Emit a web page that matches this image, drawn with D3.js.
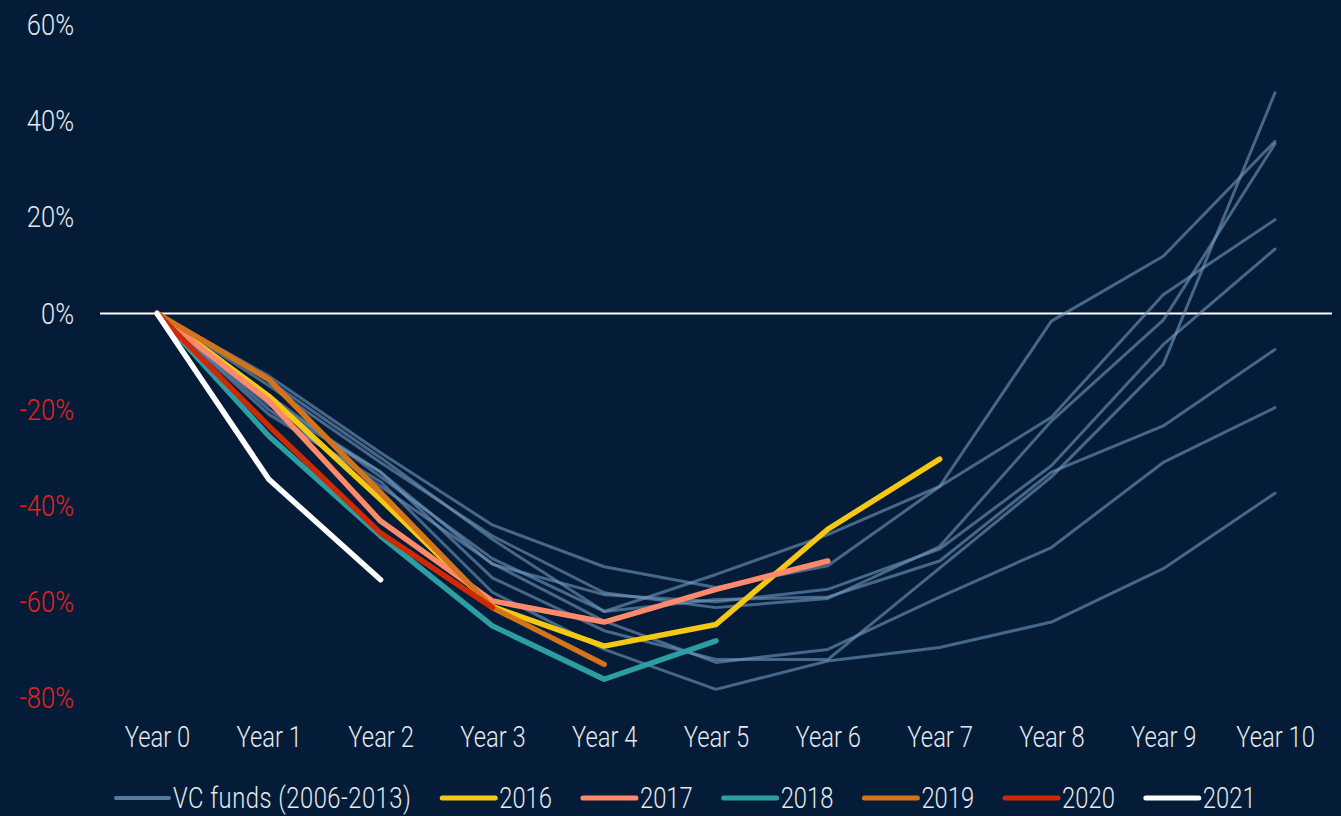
<!DOCTYPE html>
<html>
<head>
<meta charset="utf-8">
<script src="https://cdn.jsdelivr.net/npm/d3@7"></script>
<style>
  html, body { margin: 0; padding: 0; background: #041c37; }
  svg { display: block; }
  text { font-family: Roboto, "Noto Sans", sans-serif; font-weight: 300; }
</style>
</head>
<body>
<svg id="chart" width="1341" height="816"></svg>
<script>
// Categories along the x axis
const years = ["Year 0","Year 1","Year 2","Year 3","Year 4","Year 5","Year 6","Year 7","Year 8","Year 9","Year 10"];

// Y axis ticks (percent)
const yTicks = [60, 40, 20, 0, -20, -40, -60, -80];

// Historic VC fund curves, 2006-2013 vintages (percent)
const vcFundA = [0, -18, -33, -55, -66, -72, -72, -53, -34, -10.6, 45.9];
const vcFundB = [0, -13, -29, -44, -52.7, -57, -52.5, -36, -1.6, 11.9, 35.8];
const vcFundC = [0, -15, -31, -46.3, -58.1, -61.2, -59.3, -48.5, -22.4, -1.4, 35.3];
const vcFundD = [0, -17, -34, -51, -62, -54.3, -46, -36, -21.6, 3.9, 19.5];
const vcFundE = [0, -19, -33, -52.2, -58.5, -60, -57.4, -49, -31.7, -6.5, 13.4];
const vcFundF = [0, -14, -30, -47, -62, -59.5, -59, -51.5, -33, -23.4, -7.5];
const vcFundG = [0, -20, -36, -52, -64, -72.6, -69.9, -59, -48.7, -31, -19.6];
const vcFundH = [0, -21, -35, -58, -69.9, -78.2, -72.3, -69.5, -64.2, -53.1, -37.4];
const vcFunds = [vcFundA, vcFundB, vcFundC, vcFundD, vcFundE, vcFundF, vcFundG, vcFundH];

// Recent vintages (percent)
const v2016 = [0, -17.2, -38.7, -61, -69.2, -64.7, -44.9, -30.3];
const v2017 = [0, -18.2, -43.2, -59.8, -64.2, -57.4, -51.5];
const v2018 = [0, -25.5, -46.3, -65, -76.1, -68.1];
const v2019 = [0, -13.7, -37.3, -61.2, -73];
const v2020 = [0, -23.4, -45.7, -61.2];
const v2021 = [0, -34.5, -55.4];

const vintageNames = ["2016", "2017", "2018", "2019", "2020", "2021"];
const vintageValues = [v2016, v2017, v2018, v2019, v2020, v2021];
const vintageColors = ["#f5c816", "#ff8a6b", "#2b9ea3", "#d3731b", "#cb2a04", "#ffffff"];

const greyColor = "#7399c0";
const textColor = "#e6e9ee";
const fontSize = 29;
const squeezeX = 0.82;   // horizontal condensing of category labels
const squeezeY = 0.88;   // horizontal condensing of percentage labels

const svg = d3.select("#chart");
const W = 1341, H = 816;

svg.append("rect").attr("width", W).attr("height", H).attr("fill", "#041c37");

const x = d3.scalePoint().domain(years).range([157, 1275]);
const y = d3.scaleLinear().domain([-80, 60]).range([698, 25]);

// Y axis labels
const yAxis = svg.append("g")
  .attr("transform", "translate(74,0)")
  .call(d3.axisLeft(y).tickValues(yTicks).tickSize(0).tickPadding(0).tickFormat(d => d + "%"));
yAxis.select(".domain").remove();
yAxis.selectAll("text")
  .attr("x", 0)
  .attr("font-size", fontSize)
  .attr("font-family", null)
  .attr("dy", "0.33em")
  .attr("transform", `scale(${squeezeY},1)`)
  .attr("fill", d => d < 0 ? "#e3231c" : textColor);

// X axis labels
const xAxis = svg.append("g")
  .attr("transform", "translate(0,737)")
  .call(d3.axisBottom(x).tickSize(0).tickPadding(0));
xAxis.select(".domain").remove();
xAxis.selectAll("text")
  .attr("y", 0)
  .attr("font-size", fontSize)
  .attr("font-family", null)
  .attr("dy", "0.36em")
  .attr("transform", `scale(${squeezeX},1)`)
  .attr("fill", textColor);

// Zero reference line
svg.append("line")
  .attr("x1", 100).attr("x2", 1332)
  .attr("y1", y(0)).attr("y2", y(0))
  .attr("stroke", "#ffffff").attr("stroke-width", 2);

const line = d3.line().x((d, i) => x(years[i])).y(d => y(d));

// Historic funds
svg.append("g").selectAll("path")
  .data(vcFunds).join("path")
  .attr("d", line)
  .attr("fill", "none")
  .attr("stroke", greyColor)
  .attr("stroke-opacity", 0.6)
  .attr("stroke-width", 3)
  .attr("stroke-linejoin", "round")
  .attr("stroke-linecap", "round");

// Recent vintages
svg.append("g").selectAll("path")
  .data(vintageValues).join("path")
  .attr("d", line)
  .attr("fill", "none")
  .attr("stroke", (d, i) => vintageColors[i])
  .attr("stroke-width", 5.5)
  .attr("stroke-linejoin", "round")
  .attr("stroke-linecap", "round");

// Legend
const legendItems = [{ name: "VC funds (2006-2013)", color: greyColor, opacity: 0.75, w: 4, spacing: 0.6 }]
  .concat(vintageNames.map((n, i) => ({ name: n, color: vintageColors[i], opacity: 1, w: 5, spacing: 0 })));
const legend = svg.append("g").attr("transform", "translate(0,798)");
let lx = 116;
legendItems.forEach(item => {
  legend.append("line")
    .attr("x1", lx).attr("x2", lx + 53)
    .attr("y1", 0).attr("y2", 0)
    .attr("stroke", item.color)
    .attr("stroke-opacity", item.opacity)
    .attr("stroke-width", item.w)
    .attr("stroke-linecap", "round");
  const g = legend.append("g").attr("transform", `translate(${lx + 57},0) scale(${squeezeX},1)`);
  const t = g.append("text")
    .attr("x", 0).attr("y", 0)
    .attr("dy", "0.36em")
    .attr("font-size", fontSize)
    .attr("letter-spacing", item.spacing)
    .attr("fill", textColor)
    .text(item.name);
  lx += 57 + t.node().getComputedTextLength() * squeezeX + 31;
});
</script>
</body>
</html>
